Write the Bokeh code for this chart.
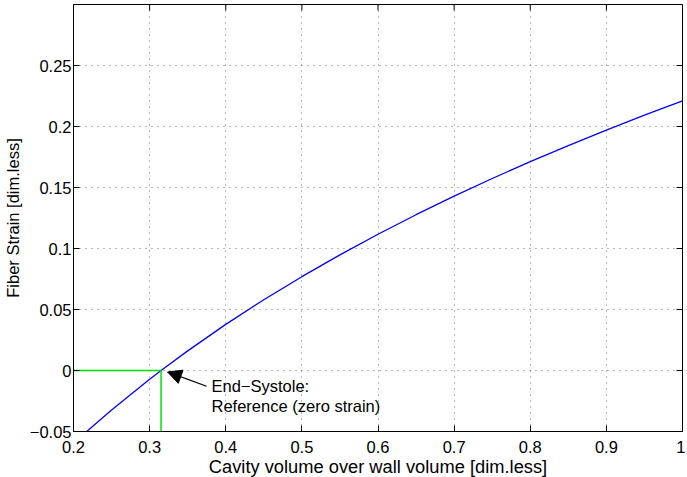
import math
from bokeh.plotting import figure
from bokeh.models import Range1d, LinearAxis, FixedTicker, Arrow, NormalHead, Label, Grid
from bokeh.embed import file_html
from bokeh.resources import INLINE

# --- data ---
volume = [0.2174, 0.25, 0.30, 0.315, 0.35, 0.40, 0.45, 0.50, 0.55, 0.60,
          0.65, 0.70, 0.75, 0.80, 0.85, 0.90, 0.95, 1.00]
strain = [-0.050, -0.0324, -0.0072, 0.0, 0.0161, 0.0378, 0.0580, 0.0769, 0.0948, 0.1117,
          0.1277, 0.1429, 0.1574, 0.1712, 0.1844, 0.1971, 0.2093, 0.2210]
ref_volume = 0.315
ref_strain = 0.0
x_ticks = [0.2, 0.3, 0.4, 0.5, 0.6, 0.7, 0.8, 0.9, 1.0]
x_tick_labels = ["0.2", "0.3", "0.4", "0.5", "0.6", "0.7", "0.8", "0.9", "1"]
y_ticks = [-0.05, 0.0, 0.05, 0.1, 0.15, 0.2, 0.25]
y_tick_labels = ["\u22120.05", "0", "0.05", "0.1", "0.15", "0.2", "0.25"]
annotation_lines = ["End\u2212Systole:", "Reference (zero strain)"]
x_label = "Cavity volume over wall volume [dim.less]"
y_label = "Fiber Strain [dim.less]"

X_MIN, X_MAX = 0.2, 1.0
Y_MIN, Y_MAX = -0.05, 0.3

FONT = "Liberation Sans"

p = figure(frame_width=609, frame_height=427, output_backend="svg",
           toolbar_location=None, x_axis_type=None, y_axis_type=None,
           x_range=Range1d(X_MIN, X_MAX), y_range=Range1d(Y_MIN, Y_MAX),
           min_border_left=0, min_border_right=3, min_border_top=4, min_border_bottom=0)
p.background_fill_color = "white"
p.border_fill_color = "white"
p.outline_line_color = "black"
p.outline_line_width = 1

def style_axis(ax, labels, ticks):
    ax.ticker = FixedTicker(ticks=ticks)
    ax.major_label_overrides = {t: l for t, l in zip(ticks, labels)}
    ax.major_tick_in = 6
    ax.major_tick_out = 0
    ax.minor_tick_line_color = None
    ax.axis_line_color = "black"
    ax.major_tick_line_color = "black"
    ax.major_label_text_font = FONT
    ax.major_label_text_color = "black"
    ax.major_label_text_font_size = "16.5px"
    ax.axis_label_text_font = FONT
    ax.axis_label_text_font_style = "normal"
    ax.axis_label_text_color = "black"

xb = LinearAxis(axis_label=x_label)
style_axis(xb, x_tick_labels, x_ticks)
xb.axis_label_text_font_size = "18.3px"
xb.major_label_standoff = 9
xb.axis_label_standoff = 0
p.add_layout(xb, "below")

yl = LinearAxis(axis_label=y_label)
style_axis(yl, y_tick_labels, y_ticks)
yl.axis_label_text_font_size = "16.5px"
yl.major_label_standoff = 2
yl.axis_label_standoff = 5
p.add_layout(yl, "left")

# inward ticks on top and right edges of the box
p.scatter(x_ticks, [Y_MAX] * len(x_ticks), marker="dash", size=12, angle=math.pi / 2,
          line_color="black", line_width=1)
p.scatter([X_MAX] * len(y_ticks), y_ticks, marker="dash", size=12,
          line_color="black", line_width=1)

p.add_layout(Grid(dimension=0, ticker=FixedTicker(ticks=x_ticks), grid_line_color="black",
                  grid_line_alpha=0.55, grid_line_dash="1 5", grid_line_width=1))
p.add_layout(Grid(dimension=1, ticker=FixedTicker(ticks=y_ticks), grid_line_color="black",
                  grid_line_alpha=0.55, grid_line_dash="1 5", grid_line_width=1))

# main curve
p.line(volume, strain, line_color="#0000ff", line_width=1.3)

# green reference lines
p.line([X_MIN, ref_volume], [ref_strain, ref_strain], line_color="#00e000", line_width=1.5)
p.line([ref_volume, ref_volume], [Y_MIN, ref_strain], line_color="#00e000", line_width=1.5)

# arrow annotation
p.add_layout(Arrow(end=NormalHead(size=14, fill_color="black", line_color="black"),
                   x_start=0.3748, y_start=-0.0129, x_end=0.3235, y_end=-0.0012,
                   line_color="black", line_width=1.3))
p.add_layout(Label(x=0.3813, y=-0.0128, text=annotation_lines[0], text_font=FONT,
                   text_font_size="16.5px", text_color="black", text_baseline="alphabetic"))
p.add_layout(Label(x=0.3813, y=-0.0292, text=annotation_lines[1], text_font=FONT,
                   text_font_size="16.5px", text_color="black", text_baseline="alphabetic"))

open("out.html", "w").write(file_html(p, INLINE))
